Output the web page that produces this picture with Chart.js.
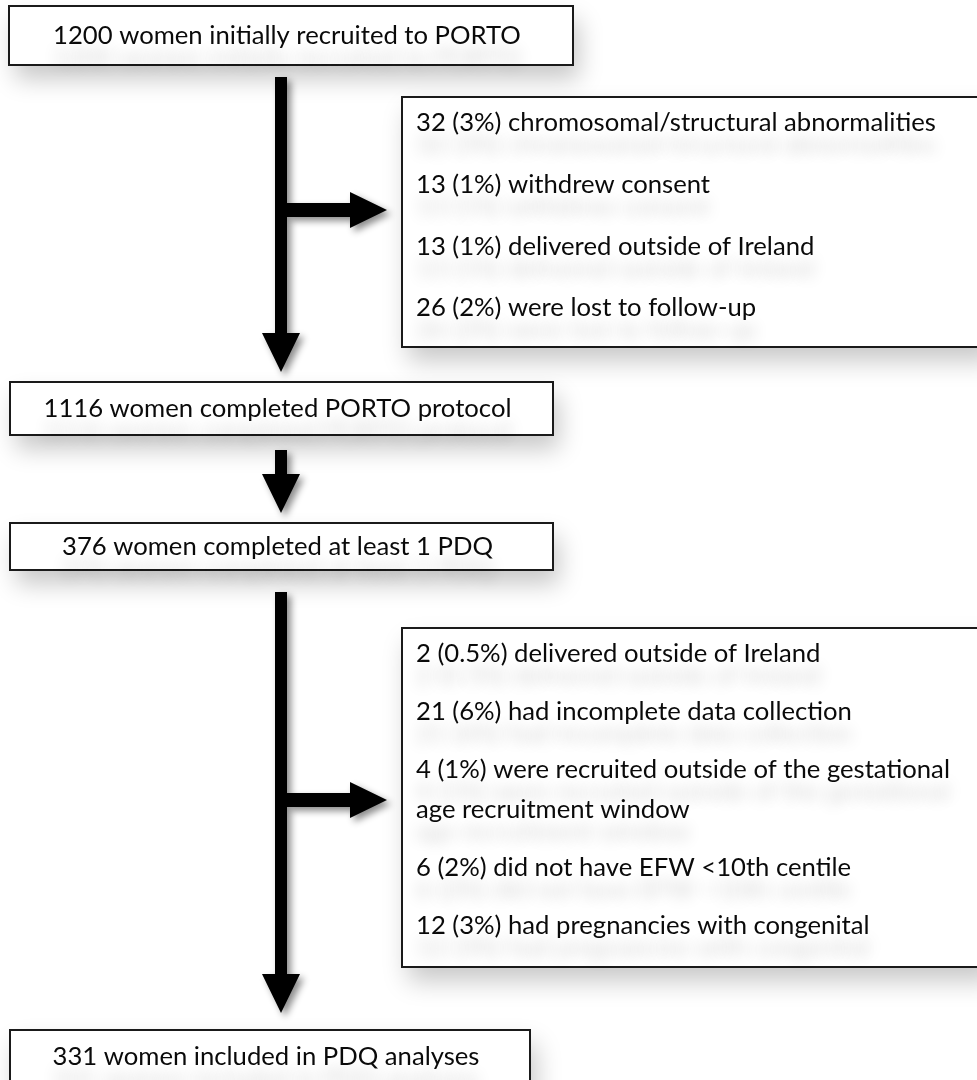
<!DOCTYPE html>
<html>
<head>
<meta charset="utf-8">
<script src="https://cdn.jsdelivr.net/npm/chart.js@4/dist/chart.umd.min.js"></script>
<style>
  html, body { margin: 0; padding: 0; background: #fff; }
  #wrap { width: 977px; height: 1080px; position: relative; }
</style>
</head>
<body>
<div id="wrap"><canvas id="flow"></canvas></div>
<script>
// main flow steps
const stepCounts = [1200, 1116, 376, 331];
const stepLabels = [
  'women initially recruited to PORTO',
  'women completed PORTO protocol',
  'women completed at least 1 PDQ',
  'women included in PDQ analyses'
];

// exclusions after recruitment
const exclA_counts = [32, 13, 13, 26];
const exclA_pct = ['3%', '1%', '1%', '2%'];
const exclA_reasons = [
  'chromosomal/structural abnormalities',
  'withdrew consent',
  'delivered outside of Ireland',
  'were lost to follow-up'
];

// exclusions after PDQ
const exclB_counts = [2, 21, 4, 6, 12];
const exclB_pct = ['0.5%', '6%', '1%', '2%', '3%'];
const exclB_reasons = [
  'delivered outside of Ireland',
  'had incomplete data collection',
  'were recruited outside of the gestational\nage recruitment window',
  'did not have EFW <10th centile',
  'had pregnancies with congenital'
];

// layout (page units, y grows downward)
const stepBoxes = [
  [9, 6, 573, 65],
  [10, 382, 553, 435],
  [10, 523, 553, 570],
  [10, 1030, 530, 1110]
];
const exclBoxes = [
  { box: [402, 97, 990, 347], firstY: 123, gap: 61.7, wrapGap: 40 },
  { box: [402, 628, 990, 967], firstY: 654, gap: 58, wrapGap: 40 }
];
const textIndent = 14;
const downArrows = [
  { x: 281, y0: 77, y1: 372 },
  { x: 281, y0: 450, y1: 513 },
  { x: 281, y0: 592, y1: 1013 }
];
const sideArrows = [
  { y: 210, x0: 287, x1: 387 },
  { y: 800, x0: 287, x1: 387 }
];

const FONT = 'Lato, "Open Sans", sans-serif';
let fontPx = 24;

function fitFont(ctx) {
  // size the font so the first step label is about as wide as in the figure
  ctx.font = '100px ' + FONT;
  const w = ctx.measureText(stepCounts[0] + ' ' + stepLabels[0]).width;
  fontPx = 100 * 468 / w;
}

const flowPlugin = {
  id: 'flow',
  beforeDraw(chart) {
    const ctx = chart.ctx;
    ctx.save();
    ctx.fillStyle = '#fff';
    ctx.fillRect(0, 0, chart.width, chart.height);
    ctx.restore();
  },
  afterDraw(chart) {
    const ctx = chart.ctx;
    const X = v => chart.scales.x.getPixelForValue(v);
    const Y = v => chart.scales.y.getPixelForValue(v);

    fitFont(ctx);

    function drawBox(b) {
      const x0 = X(b[0]), y0 = Y(b[1]), x1 = X(b[2]), y1 = Y(b[3]);
      ctx.save();
      ctx.shadowColor = 'rgba(0,0,0,0.22)';
      ctx.shadowBlur = 24;
      ctx.shadowOffsetX = 6;
      ctx.shadowOffsetY = 14;
      ctx.fillStyle = '#fff';
      ctx.fillRect(x0, y0, x1 - x0, y1 - y0);
      ctx.restore();
      ctx.save();
      ctx.strokeStyle = '#1a1a1a';
      ctx.lineWidth = 2;
      ctx.strokeRect(x0, y0, x1 - x0, y1 - y0);
      ctx.restore();
    }

    function drawText(txt, x, y, align) {
      ctx.save();
      ctx.font = fontPx.toFixed(2) + 'px ' + FONT;
      ctx.textAlign = align;
      ctx.textBaseline = 'middle';
      ctx.shadowColor = 'rgba(0,0,0,0.2)';
      ctx.shadowBlur = 15;
      ctx.shadowOffsetY = 22;
      ctx.fillStyle = '#0a0a0a';
      ctx.fillText(txt, x, y);
      ctx.restore();
    }

    function arrowPath(pts) {
      ctx.save();
      ctx.shadowColor = 'rgba(0,0,0,0.45)';
      ctx.shadowBlur = 7;
      ctx.shadowOffsetX = 4;
      ctx.shadowOffsetY = 4;
      ctx.fillStyle = '#000';
      ctx.beginPath();
      pts.forEach((p, i) => i ? ctx.lineTo(X(p[0]), Y(p[1])) : ctx.moveTo(X(p[0]), Y(p[1])));
      ctx.closePath();
      ctx.fill();
      ctx.restore();
    }

    // boxes
    stepBoxes.forEach(drawBox);
    exclBoxes.forEach(e => drawBox(e.box));

    // arrows
    const shaft = 6, head = 19, headLen = 39;
    downArrows.forEach(a => {
      const hy = a.y1 - headLen;
      arrowPath([[a.x - shaft, a.y0], [a.x + shaft, a.y0], [a.x + shaft, hy], [a.x + head, hy],
                 [a.x, a.y1], [a.x - head, hy], [a.x - shaft, hy]]);
    });
    sideArrows.forEach(a => {
      const hx = a.x1 - 37;
      arrowPath([[a.x0, a.y - 7], [hx, a.y - 7], [hx, a.y - 18], [a.x1, a.y],
                 [hx, a.y + 18], [hx, a.y + 7], [a.x0, a.y + 7]]);
    });

    // step labels
    stepBoxes.forEach((b, i) => {
      const cy = i === 3 ? b[1] + 27 : (b[1] + b[3]) / 2;
      drawText(stepCounts[i] + ' ' + stepLabels[i], X((b[0] + b[2]) / 2 - 4), Y(cy), 'center');
    });

    // exclusion lists
    const lists = [
      { counts: exclA_counts, pct: exclA_pct, reasons: exclA_reasons },
      { counts: exclB_counts, pct: exclB_pct, reasons: exclB_reasons }
    ];
    lists.forEach((l, k) => {
      const e = exclBoxes[k];
      let y = e.firstY;
      l.counts.forEach((c, i) => {
        const lines = (c + ' (' + l.pct[i] + ') ' + l.reasons[i]).split('\n');
        lines.forEach((ln, j) => {
          if (j > 0) y += e.wrapGap;
          drawText(ln, X(e.box[0] + textIndent), Y(y), 'left');
        });
        y += e.gap;
      });
    });
  }
};

document.fonts.ready.then(() => {
  new Chart(document.getElementById('flow'), {
    type: 'scatter',
    data: { datasets: [] },
    options: {
      responsive: true,
      maintainAspectRatio: false,
      animation: false,
      events: [],
      layout: { padding: 0 },
      plugins: { legend: { display: false }, tooltip: { enabled: false } },
      scales: {
        x: { type: 'linear', min: 0, max: 977, display: false },
        y: { type: 'linear', min: 0, max: 1080, reverse: true, display: false }
      }
    },
    plugins: [flowPlugin]
  });
});
</script>
</body>
</html>
